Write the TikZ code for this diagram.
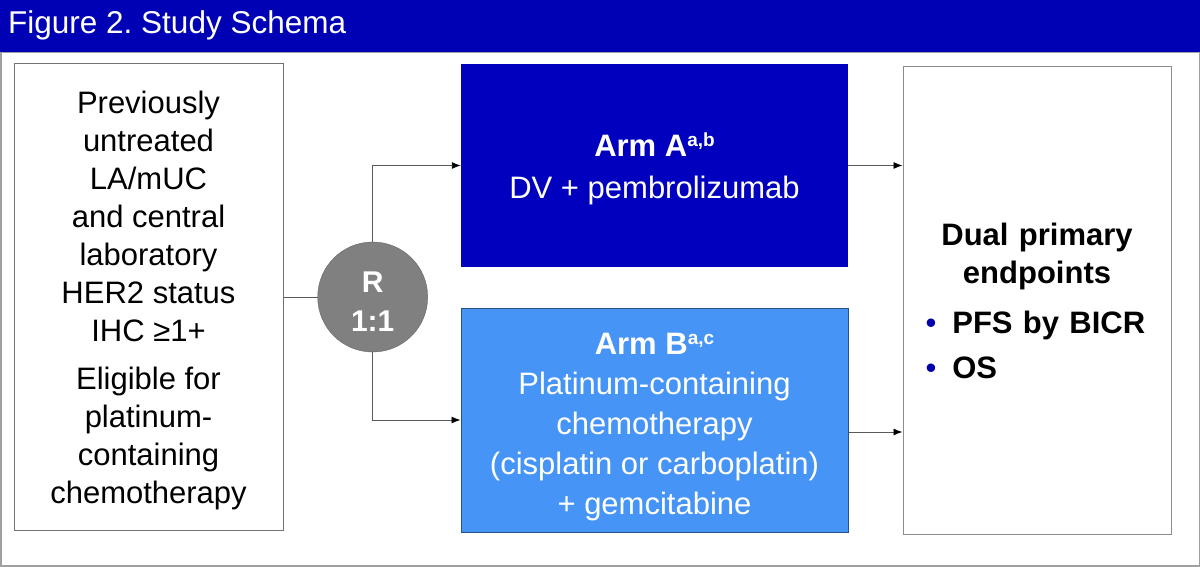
\documentclass[tikz,border=0pt]{standalone}
\usepackage{fontspec}
\setmainfont{Liberation Sans}
\usetikzlibrary{arrows.meta, positioning}
\definecolor{headerblue}{RGB}{0,0,180}
\definecolor{armablue}{RGB}{0,0,190}
\definecolor{armbblue}{RGB}{70,148,245}
\definecolor{bulletblue}{RGB}{0,0,170}
\definecolor{framegray}{RGB}{160,160,160}
\tikzset{
    infobox/.style={
        rectangle,
        draw=black!55,
        fill=white,
        line width=1pt,
        inner sep=0pt,
        align=center,
        font=\fontsize{31}{38}\selectfont
    },
    armbox/.style={
        rectangle,
        text=white,
        minimum width=387pt,
        inner sep=0pt,
        align=center,
        font=\fontsize{31}{40}\selectfont
    },
    randcircle/.style={
        circle,
        draw=black!60,
        fill=black!50,
        text=white,
        minimum size=110pt,
        inner sep=0pt,
        align=center,
        font=\fontsize{30}{39}\selectfont\bfseries
    },
    flowline/.style={
        draw=black!65,
        line width=0.9pt
    },
    flowarrow/.style={
        flowline,
        -{Latex[length=9pt, width=7pt, color=black]}
    }
}
\newcommand{\armsup}[1]{\raisebox{10pt}{\fontsize{19}{19}\selectfont #1}}
\newcommand{\topgap}[1]{\rule{0pt}{#1}}

\begin{document}
\frenchspacing
\begin{tikzpicture}[x=1pt, y=-1pt]
    \useasboundingbox (0,0) rectangle (1200,567);
    % frame and title bar
    \draw[framegray, line width=1.5pt] (0.75,52) rectangle (1199.25,566);
    \fill[headerblue] (0,0) rectangle (1200,52);
    \node[anchor=west, inner sep=0pt, text=white, font=\fontsize{31.5}{36}\selectfont] (title) at (8,25) {Figure 2. Study Schema};

    \node[infobox, minimum width=269pt, minimum height=466pt] (patients) at (148.5,297)
        {\topgap{29pt}Previously\\untreated\\LA/mUC\\and central\\laboratory\\HER2 status\\IHC ≥1+\\[10pt]Eligible for\\platinum-\\containing\\chemotherapy};
    \node[randcircle, right=34pt of patients] (rand) {\topgap{30pt}R\\1:1};

    \node[armbox, fill=armablue, minimum height=203pt, font=\fontsize{31}{42}\selectfont] (armA) at (654.5,165.5)
        {\topgap{30pt}\textbf{Arm A\armsup{a,b}}\\DV + pembrolizumab};
    \node[armbox, fill=armbblue, draw=black!45!armbblue, line width=1pt, minimum height=224pt] (armB) at (654.5,420)
        {\topgap{36pt}\textbf{Arm B\armsup{a,c}}\\Platinum-containing\\chemotherapy\\(cisplatin or carboplatin)\\+ gemcitabine};

    \node[infobox, draw=black!45, minimum width=268pt, minimum height=467pt, text width=268pt, align=left] (endpts) at (1037,300.5)
        {{\centering\bfseries Dual primary\\endpoints\par}\vspace{12pt}
        \hspace*{22.5pt}{\color{bulletblue}•}\hspace{16pt}\textbf{PFS by BICR}\par\vspace{7pt}
        \hspace*{22.5pt}{\color{bulletblue}•}\hspace{16pt}\textbf{OS}\par};

    \draw[flowline] (patients.east |- rand.west) -- (rand.west);
    \draw[flowarrow] (rand.north) |- (armA.west);
    \draw[flowarrow] (rand.south) |- (armB.west);
    \draw[flowarrow] (armA.east) -- (armA.east -| endpts.west);
    \draw[flowarrow] ([yshift=-12pt]armB.east) -- ([yshift=-12pt]armB.east -| endpts.west);
\end{tikzpicture}
\end{document}
